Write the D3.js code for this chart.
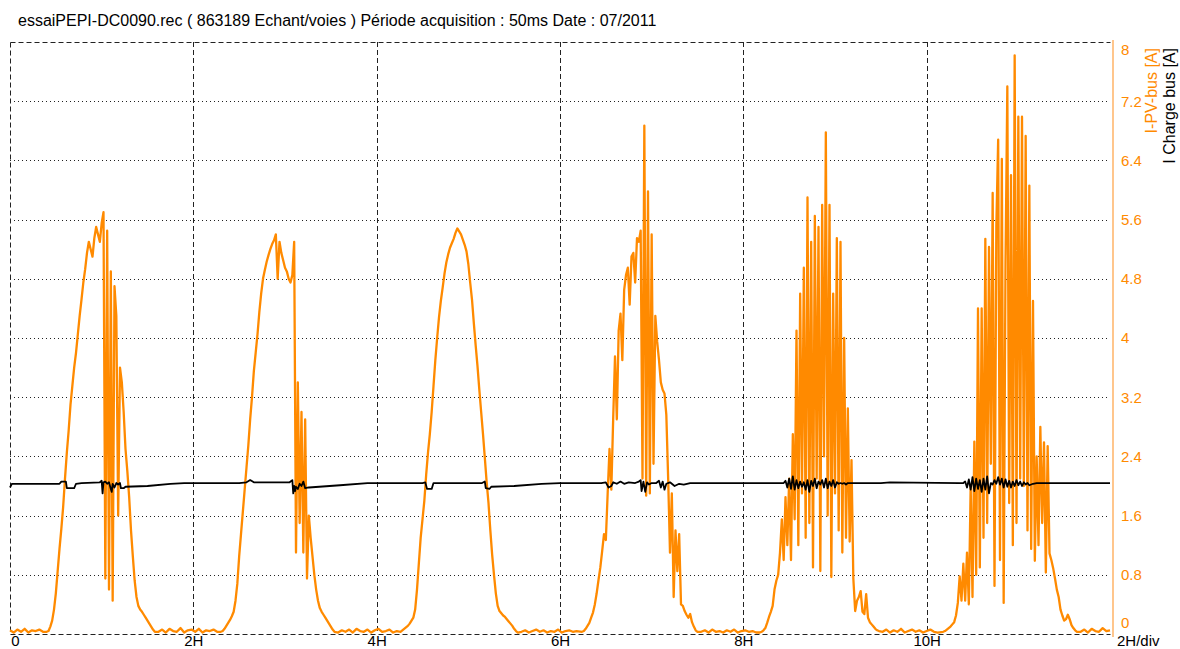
<!DOCTYPE html>
<html><head><meta charset="utf-8">
<script src="https://cdn.jsdelivr.net/npm/d3@7"></script>
<style>
body{margin:0;background:#fff;}
svg{display:block;font-family:"Liberation Sans",Arial,sans-serif;}
</style>
</head><body>
<svg id="c" width="1180" height="649"></svg>
<script>
// ---------- text ----------
const titleText = "essaiPEPI-DC0090.rec ( 863189 Echant/voies ) Période acquisition : 50ms Date : 07/2011";
const xTickValues = [0, 2, 4, 6, 8, 10];
const xTickLabels = ["0", "2H", "4H", "6H", "8H", "10H"];
const xUnitLabel = "2H/div";
const yTickValues = [0, 0.8, 1.6, 2.4, 3.2, 4, 4.8, 5.6, 6.4, 7.2, 8];
const yTickLabels = ["0", "0.8", "1.6", "2.4", "3.2", "4", "4.8", "5.6", "6.4", "7.2", "8"];
const seriesNames = ["I-PV-bus [A]", "I Charge bus [A]"];

// ---------- I-PV-bus (hours, amps) ----------
const pvStep = 0.02;          // day samples
const nightStep = 0.04;       // night samples
const dayStarts = [0.40, 2.30, 4.26, 6.24, 8.18, 10.18];
const nightStarts = [0, 1.62, 3.58, 5.58, 7.54, 9.52, 11.68];

const day1 = [0.03,0.04,0.10,0.18,0.33,0.55,0.85,1.15,1.42,1.72,2.1,2.45,2.75,3.1,3.35,3.6,3.8,4.05,4.3,4.52,4.75,4.93,5.15,5.3,5.2,5.1,5.35,5.5,5.4,5.3,5.55,5.7,0.75,5.45,0.6,4.9,0.45,4.7,4.3,1.6,3.6,3.4,3.0,2.5,2.2,1.85,1.4,1.05,0.72,0.5,0.38,0.33,0.3,0.26,0.22,0.18,0.14,0.1,0.06,0.03];
const day2 = [0.03,0.04,0.07,0.11,0.15,0.19,0.24,0.3,0.45,0.68,1.05,1.35,1.65,1.95,2.25,2.55,2.9,3.2,3.55,3.8,4.05,4.35,4.6,4.8,4.92,5.03,5.12,5.2,5.27,5.32,5.4,4.8,5.3,5.15,5.05,4.95,4.9,4.8,4.75,4.85,5.3,1.1,3.4,1.5,3.0,1.1,2.9,0.75,1.6,1.3,1.05,0.8,0.6,0.45,0.35,0.3,0.26,0.22,0.18,0.14,0.1,0.06,0.03];
const day3 = [0.03,0.05,0.07,0.09,0.11,0.14,0.18,0.22,0.33,0.6,0.95,1.3,1.55,1.8,2.15,2.45,2.7,3.0,3.35,3.7,4.0,4.28,4.5,4.68,4.87,5.02,5.13,5.22,5.28,5.34,5.42,5.48,5.44,5.4,5.33,5.26,5.17,5.0,4.75,4.52,4.2,3.9,3.62,3.3,3.0,2.7,2.38,2.05,1.77,1.4,1.07,0.8,0.55,0.38,0.31,0.28,0.25,0.23,0.2,0.17,0.14,0.11,0.07,0.04,0.02];
const day4 = [0.03,0.04,0.07,0.11,0.15,0.22,0.29,0.4,0.55,0.73,0.9,1.12,1.35,1.27,1.9,2.5,1.95,2.9,3.75,2.9,4.1,4.33,3.7,4.65,4.85,4.95,4.45,5.1,5.15,4.75,5.35,5.3,5.45,2.1,6.87,1.87,5.98,1.9,5.4,2.3,4.3,3.95,3.7,3.4,3.3,3.25,2.96,2.1,1.1,1.9,0.5,1.4,0.85,1.35,0.4,0.38,0.31,0.26,0.22,0.27,0.16,0.1,0.05,0.03];
const day5 = [0.02,0.03,0.05,0.08,0.15,0.23,0.3,0.38,0.6,0.72,0.8,1.1,1.55,1.0,1.85,1.2,2.1,1.0,2.7,1.55,4.1,1.2,4.6,1.9,4.95,1.3,5.9,1.5,5.3,0.9,5.65,2.1,5.5,0.85,5.8,2.4,6.78,1.6,5.8,0.77,4.6,1.9,5.35,1.4,5.3,1.1,4.0,1.3,3.05,1.25,2.35,0.75,0.31,0.45,0.5,0.58,0.3,0.27,0.54,0.22,0.16,0.13,0.1,0.07,0.05,0.04];
const day6 = [0.03,0.04,0.06,0.08,0.1,0.13,0.16,0.25,0.42,0.78,0.45,0.95,0.45,1.1,0.4,2.0,0.5,2.6,0.8,4.4,0.9,4.4,1.3,5.34,1.5,5.23,2.3,5.96,0.65,5.5,6.68,1.0,6.42,0.42,5.0,7.4,1.77,6.2,1.2,7.82,1.5,6.99,2.1,6.99,2.0,6.73,1.4,6.06,1.15,4.5,0.99,2.4,1.2,2.8,1.5,2.59,0.83,2.54,1.09,1.0,0.89,0.75,0.6,0.5,0.33,0.25,0.18,0.2,0.26,0.2,0.12,0.08,0.05,0.03];

const night0 = [0.05,0.02,0.06,0.03,0.07,0.02,0.05,0.04,0.06,0.03];
const night1 = [0.03,0.06,0.02,0.07,0.04,0.03,0.08,0.02,0.05,0.06,0.03,0.07,0.02,0.05,0.04,0.06,0.03];
const night2 = [0.02,0.05,0.03,0.06,0.02,0.07,0.04,0.03,0.06,0.02,0.05,0.07,0.03,0.04,0.06,0.02,0.04];
const night3 = [0.03,0.05,0.02,0.04,0.06,0.03,0.05,0.02,0.04,0.03,0.06,0.02,0.04,0.05,0.03,0.04];
const night4 = [0.03,0.05,0.02,0.06,0.03,0.04,0.02,0.05,0.03,0.06,0.02,0.04,0.05,0.03,0.04,0.02];
const night5 = [0.03,0.06,0.02,0.05,0.03,0.07,0.02,0.04,0.06,0.03,0.05,0.02,0.04,0.06,0.03,0.02];
const night6 = [0.03,0.06,0.02,0.07,0.04,0.03,0.08,0.04,0.05];

// ---------- I Charge bus (hours, amps) ----------
const chargeBus = [[0,1.98],[0.02,2.03],[0.3,2.03],[0.54,2.03],[0.56,2.06],[0.61,2.06],[0.62,1.97],[0.70,1.97],[0.72,2.03],[0.78,2.04],[0.98,2.05],[1.0,2.07],[1.01,1.9],[1.02,2.05],[1.04,2.06],[1.06,2.03],[1.08,2.05],[1.10,1.96],[1.11,1.92],[1.12,2.03],[1.14,1.98],[1.16,2.04],[1.18,2.02],[1.20,2.04],[1.21,1.97],[1.24,1.97],[1.26,1.99],[1.5,2.0],[1.75,2.03],[1.9,2.04],[2.5,2.04],[2.58,2.05],[2.62,2.08],[2.66,2.05],[3.05,2.05],[3.08,2.08],[3.09,1.9],[3.10,2.0],[3.11,1.93],[3.12,1.99],[3.14,1.96],[3.16,2.03],[3.18,2.0],[3.20,2.06],[3.22,1.97],[3.26,1.98],[3.6,2.01],[3.9,2.04],[4.5,2.04],[4.53,2.05],[4.55,1.96],[4.60,1.96],[4.62,2.04],[5.15,2.04],[5.18,2.06],[5.19,1.97],[5.23,1.96],[5.25,1.99],[5.5,2.0],[5.8,2.03],[6.0,2.04],[6.45,2.04],[6.50,2.05],[6.53,1.98],[6.56,2.0],[6.58,2.05],[6.62,2.03],[6.66,2.06],[6.70,2.03],[6.75,2.05],[6.82,2.04],[6.86,2.06],[6.88,2.08],[6.89,1.93],[6.91,2.06],[6.93,1.92],[6.95,2.05],[6.97,2.02],[7.0,2.04],[7.05,2.04],[7.08,2.07],[7.10,1.98],[7.12,2.06],[7.14,1.95],[7.16,2.03],[7.20,2.05],[7.25,2.0],[7.30,2.03],[7.35,2.02],[7.42,2.04],[8.40,2.04],
[8.44,2.04],[8.46,2.07],[8.48,1.98],[8.50,2.1],[8.52,1.96],[8.54,2.13],[8.56,1.95],[8.58,2.08],[8.60,1.97],[8.62,2.06],[8.64,1.99],[8.66,2.05],[8.68,1.95],[8.70,2.08],[8.72,1.92],[8.74,2.07],[8.76,2.0],[8.78,2.1],[8.80,1.97],[8.82,2.06],[8.84,2.02],[8.86,2.08],[8.88,1.98],[8.90,2.1],[8.92,1.97],[8.94,2.06],[8.96,2.0],[8.98,2.08],[9.00,1.98],[9.02,2.05],[9.04,2.03],[9.06,2.04],[9.08,2.03],[9.10,2.04],[9.12,2.02],[9.14,2.04],[9.2,2.04],[9.5,2.04],[9.6,2.05],[10.36,2.04],
[10.40,2.04],[10.42,2.06],[10.44,1.98],[10.46,2.09],[10.48,1.95],[10.50,2.12],[10.52,1.93],[10.54,2.1],[10.56,1.96],[10.58,2.08],[10.60,1.92],[10.62,2.1],[10.64,1.95],[10.66,2.13],[10.68,1.9],[10.70,2.04],[10.72,2.02],[10.74,2.08],[10.76,2.03],[10.78,2.12],[10.80,2.02],[10.82,2.1],[10.84,1.98],[10.86,2.09],[10.88,1.99],[10.90,2.07],[10.92,1.98],[10.94,2.06],[10.96,2.0],[10.98,2.08],[11.00,2.01],[11.02,2.06],[11.04,2.0],[11.06,2.05],[11.08,2.02],[11.10,2.04],[11.12,2.01],[11.16,2.03],[11.2,2.04],[12,2.04]];

// ---------- build ----------
const svg = d3.select("#c");
const plot = {left: 10, right: 1110, top: 42, bottom: 634};
const orange = "#ff8a00";
const FS = 16, TFS = 15;

const x = d3.scaleLinear().domain([0, 12]).range([plot.left, plot.right]);
const y = d3.scaleLinear().domain([0, 8]).range([plot.bottom, plot.top]);

function seg(start, step, vals) { return vals.map((v, i) => [start + i * step, v]); }
const days = [day1, day2, day3, day4, day5, day6];
const nights = [night0, night1, night2, night3, night4, night5, night6];
let pv = [];
days.forEach((d, k) => pv = pv.concat(seg(dayStarts[k], pvStep, d)));
nights.forEach((d, k) => pv = pv.concat(seg(nightStarts[k], nightStep, d)));
pv.sort((a, b) => a[0] - b[0]);

// title
svg.append("text").attr("x", 18).attr("y", 26).attr("font-size", FS).attr("fill", "#000").text(titleText);

// grid: vertical dashed
const grid = svg.append("g");
grid.selectAll("line.v").data(xTickValues.filter(v => v > 0)).join("line")
  .attr("x1", d => Math.round(x(d)) + 0.5).attr("x2", d => Math.round(x(d)) + 0.5).attr("y1", plot.top).attr("y2", plot.bottom)
  .attr("stroke", "#222").attr("stroke-width", 1).attr("stroke-dasharray", "5,3");
// horizontal dotted
grid.selectAll("line.h").data(yTickValues.filter(v => v > 0 && v < 8)).join("line")
  .attr("x1", plot.left).attr("x2", plot.right).attr("y1", d => Math.round(y(d)) + 0.5).attr("y2", d => Math.round(y(d)) + 0.5)
  .attr("stroke", "#222").attr("stroke-width", 1).attr("stroke-dasharray", "1,3");
// borders
const border = [[plot.left, plot.top, plot.right, plot.top], [plot.left, plot.bottom, plot.right, plot.bottom], [plot.left, plot.top, plot.left, plot.bottom]];
grid.selectAll("line.b").data(border).join("line")
  .attr("x1", d => d[0] + 0.5).attr("y1", d => d[1] + 0.5).attr("x2", d => d[2] + 0.5).attr("y2", d => d[3] + 0.5)
  .attr("stroke", "#222").attr("stroke-width", 1).attr("stroke-dasharray", "5,3");

// series
const line = d3.line().x(d => x(d[0])).y(d => y(d[1]));
svg.append("path").datum(pv).attr("d", line).attr("fill", "none")
  .attr("stroke", orange).attr("stroke-width", 2.3).attr("stroke-linejoin", "round");
svg.append("path").datum(chargeBus).attr("d", line).attr("fill", "none")
  .attr("stroke", "#000").attr("stroke-width", 1.8).attr("stroke-linejoin", "round");

// right axis
const yAxis = d3.axisRight(y).tickValues(yTickValues).tickFormat((d, i) => yTickLabels[i]).tickSize(0).tickPadding(8).tickSizeOuter(0);
const gy = svg.append("g").attr("transform", "translate(1113,0)").call(yAxis);
gy.select(".domain").attr("stroke", "#ffa040").attr("stroke-width", 1.2).attr("d", `M0,${plot.top - 2}V${plot.bottom + 3}`);
gy.selectAll("text").attr("fill", orange).attr("font-size", TFS).attr("font-family", "'Liberation Sans',Arial,sans-serif")
  .attr("y", d => d === 8 ? 8 : (d === 0 ? -11 : 0));

// bottom axis
const xAxis = d3.axisBottom(x).tickValues(xTickValues).tickFormat((d, i) => xTickLabels[i]).tickSize(0).tickPadding(1).tickSizeOuter(0);
const gx = svg.append("g").attr("transform", `translate(0,${plot.bottom})`).call(xAxis);
gx.select(".domain").remove();
gx.selectAll("text").attr("fill", "#000").attr("font-size", TFS).attr("font-family", "'Liberation Sans',Arial,sans-serif")
  .attr("x", d => d === 0 ? 5 : 0);
svg.append("text").attr("x", 1117).attr("y", 646).attr("font-size", TFS).attr("fill", "#000").text(xUnitLabel);

// axis titles (rotated)
svg.append("text").attr("transform", "translate(1157,48) rotate(-90)").attr("text-anchor", "end")
  .attr("font-size", FS).attr("fill", orange).text(seriesNames[0]);
svg.append("text").attr("transform", "translate(1175,48) rotate(-90)").attr("text-anchor", "end")
  .attr("font-size", FS).attr("fill", "#000").text(seriesNames[1]);
</script>
</body></html>
